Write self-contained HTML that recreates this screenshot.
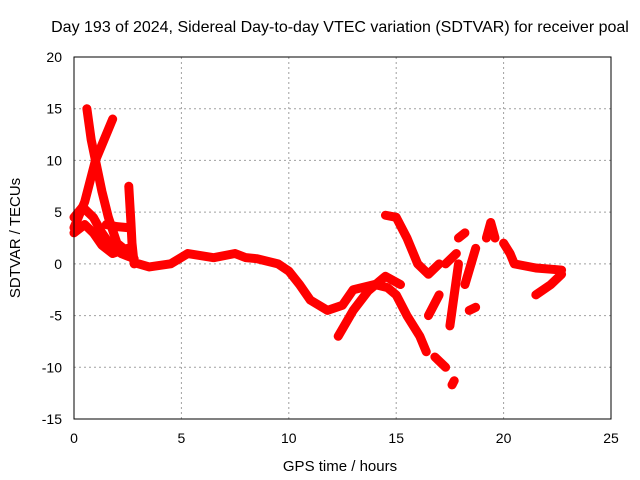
<!DOCTYPE html>
<html><head><meta charset="utf-8"><style>
body{margin:0;background:#fff}
svg{display:block;font-family:"Liberation Sans",sans-serif}
</style></head><body>
<svg id="c" width="640" height="480">
<rect width="640" height="480" fill="#fff"/>
<text x="340" y="32" text-anchor="middle" font-size="16">Day 193 of 2024, Sidereal Day-to-day VTEC variation (SDTVAR) for receiver poal</text>
<g id="grid"></g>
<g id="series"></g>
<rect x="74" y="57" width="537" height="362" fill="none" stroke="#000" stroke-width="1"/>
<g id="ticks"></g>
<text x="340" y="471" text-anchor="middle" font-size="15">GPS time / hours</text>
<text transform="translate(20,238) rotate(-90)" text-anchor="middle" font-size="15">SDTVAR / TECUs</text>
</svg>
<script>
const xTicks=[0,5,10,15,20,25];
const yTicks=[-15,-10,-5,0,5,10,15,20];
const trackA=[[0.6,15],[0.8,12],[1.0,10],[1.3,7],[1.6,4.5],[2.0,2],[2.6,1]];
const trackB=[[0,3.5],[0.5,6],[1.0,10],[1.4,12],[1.8,14]];
const trackC=[[0,4.5],[0.4,5.5],[0.9,4.5],[1.3,3],[1.7,1.8],[2.2,1],[2.8,0.5]];
const trackD=[[0,3],[0.5,3.8],[0.9,3],[1.3,1.8],[1.8,1],[2.5,1.5]];
const trackE=[[1.5,3.8],[2.0,3.6],[2.5,3.5]];
const trackSpike=[[2.55,7.5],[2.65,4],[2.7,2],[2.8,0]];
const trackMain=[[3.0,0],[3.5,-0.3],[4.5,0],[5.3,1],[6.5,0.6],[7.5,1],[8.0,0.6],[8.5,0.5],[9.5,0],[10.0,-0.7],[10.5,-2],[11,-3.5],[11.8,-4.5],[12.5,-4],[13,-2.5],[14,-2],[14.6,-2.3],[15,-3],[15.5,-5],[16.1,-7],[16.4,-8.5]];
const trackLow=[[12.3,-7],[13.0,-4.5],[13.7,-2.6],[14.5,-1.2],[15.2,-2]];
const trackBranch=[[14.5,4.7],[15,4.5],[15.5,2.5],[16,0],[16.5,-1],[17,0]];
const trackP1=[[17.3,0],[17.8,1]];
const trackP2=[[19.2,2.5],[19.4,4],[19.6,2.5]];
const trackP3=[[20.0,2],[20.3,1],[20.5,0],[21.5,-0.4],[22.7,-0.6]];
const trackP4=[[21.5,-3],[22.2,-2],[22.7,-1]];
const trackP5=[[16.5,-5],[17.0,-3]];
const trackP6=[[17.5,-6],[17.9,0]];
const trackP7=[[17.9,2.5],[18.2,3]];
const trackP8=[[18.2,-2],[18.7,1.5]];
const trackP9=[[16.8,-9],[17.3,-10]];
const trackP10=[[17.6,-11.7],[17.7,-11.3]];
const trackP11=[[18.4,-4.5],[18.7,-4.2]];
const tracks=[trackA,trackB,trackC,trackD,trackE,trackSpike,trackMain,trackLow,trackBranch,trackP1,trackP2,trackP3,trackP4,trackP5,trackP6,trackP7,trackP8,trackP9,trackP10,trackP11];
const NS="http://www.w3.org/2000/svg";
const X=v=>74+v*537/25, Y=v=>57+(20-v)*362/35;
function mk(t,a,p){const e=document.createElementNS(NS,t);for(const k in a)e.setAttribute(k,a[k]);p.appendChild(e);return e;}
const g=document.getElementById('grid'),tk=document.getElementById('ticks'),s=document.getElementById('series');
xTicks.forEach(v=>{
 if(v>0&&v<25){const l=mk('line',{x1:X(v),x2:X(v),y1:57,y2:419,stroke:'#a0a0a0','stroke-dasharray':'2,3'},g);
 
 }
 const t=mk('text',{x:X(v),y:443,'text-anchor':'middle','font-size':14},tk);t.textContent=v;
 
 
});
yTicks.forEach(v=>{
 if(v>-15&&v<20){const l=mk('line',{x1:74,x2:611,y1:Y(v),y2:Y(v),stroke:'#a0a0a0','stroke-dasharray':'2,3'},g);
 
 }
 const t=mk('text',{x:62,y:Y(v)+5,'text-anchor':'end','font-size':14},tk);t.textContent=v;
 
 
});
tracks.forEach(tr=>{
 const pl=mk('polyline',{points:tr.map(p=>X(p[0])+','+Y(p[1])).join(' '),fill:'none',stroke:'#f00','stroke-width':9,'stroke-linejoin':'round','stroke-linecap':'round'},s);
 
 
 tr.forEach(p=>{
  const m=mk('path',{d:`M${X(p[0])-4},${Y(p[1])}h8M${X(p[0])},${Y(p[1])-4}v8`,stroke:'#f00','stroke-width':2},s);
  
  
 });
});
</script>
</body></html>
